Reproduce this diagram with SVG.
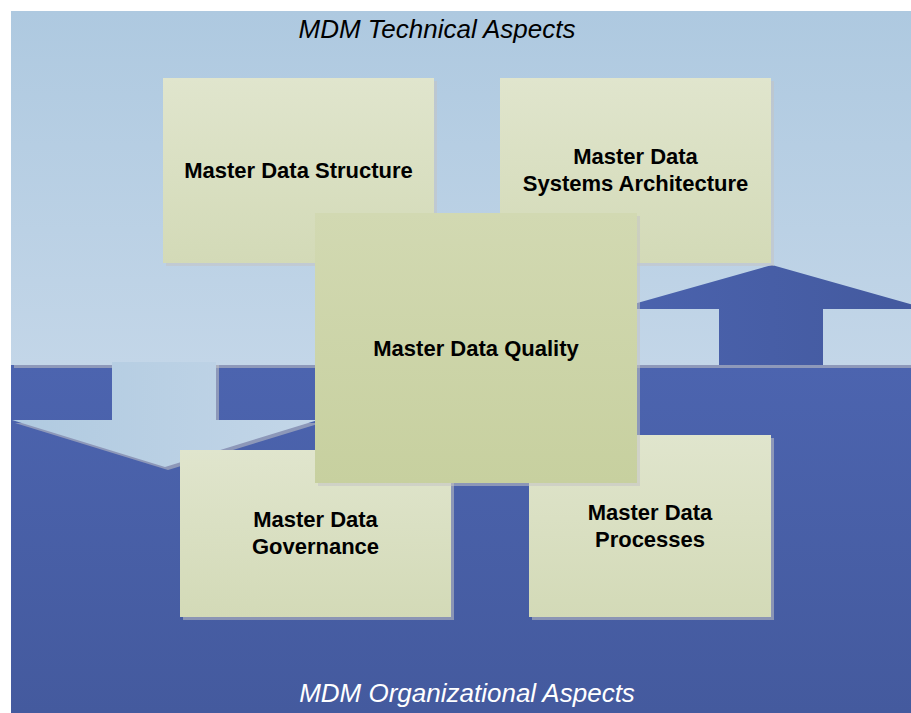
<svg xmlns="http://www.w3.org/2000/svg" width="911" height="713" viewBox="0 0 911 713">
<style>
.lbl{font-family:"Liberation Sans",Arial,sans-serif;font-weight:bold;font-size:22px;fill:#000;text-anchor:middle}
.ttl{font-family:"Liberation Sans",Arial,sans-serif;font-style:italic;font-size:26px;text-anchor:middle}
.box{fill:url(#gBox);filter:url(#sh)}
</style>
<defs>
<linearGradient id="gTop" x1="0" y1="0" x2="0" y2="1"><stop offset="0" stop-color="#aec9e0"/><stop offset="1" stop-color="#c3d6e8"/></linearGradient>
<linearGradient id="gBot" x1="0" y1="0" x2="0" y2="1"><stop offset="0" stop-color="#4c64af"/><stop offset="1" stop-color="#445a9e"/></linearGradient>
<linearGradient id="gDown" x1="0" y1="0" x2="1" y2="0"><stop offset="0" stop-color="#b0cae0"/><stop offset="1" stop-color="#c3d6e8"/></linearGradient>
<linearGradient id="gUp" x1="0" y1="0" x2="1" y2="0"><stop offset="0" stop-color="#4b63ae"/><stop offset="1" stop-color="#43599e"/></linearGradient>
<linearGradient id="gBox" x1="0" y1="0" x2="0" y2="1"><stop offset="0" stop-color="#e0e5cd"/><stop offset="1" stop-color="#d3dab7"/></linearGradient>
<linearGradient id="gQ" x1="0" y1="0" x2="0" y2="1"><stop offset="0" stop-color="#d2d9b2"/><stop offset="1" stop-color="#c7d09f"/></linearGradient>
<filter id="sh" x="-5%" y="-5%" width="115%" height="115%">
<feOffset in="SourceAlpha" dx="3" dy="3" result="o"/>
<feFlood flood-color="#c4c4c4" flood-opacity="0.55"/>
<feComposite in2="o" operator="in" result="s"/>
<feMerge><feMergeNode in="s"/><feMergeNode in="SourceGraphic"/></feMerge>
</filter>
</defs>
<rect x="0" y="0" width="911" height="713" fill="#ffffff"/>
<g id="background">
<rect x="11" y="365" width="900" height="348" fill="url(#gBot)"/>
<rect x="11" y="11" width="900" height="354" fill="url(#gTop)" filter="url(#sh)"/>
</g>
<g id="arrows">
<polygon points="719,365 719,309 616,309 772,265 928,309 823,309 823,365" fill="url(#gUp)"/>
<polygon points="112,362 216,362 216,420 318,420 165,467 12,420 112,420" fill="url(#gDown)" filter="url(#sh)"/>
</g>
<text class="ttl" x="437" y="38" fill="#000">MDM Technical Aspects</text>
<g id="structure"><rect class="box" x="163" y="78" width="271" height="185"/><text class="lbl" x="298.5" y="178">Master Data Structure</text></g>
<g id="systems"><rect class="box" x="500" y="78" width="271" height="185"/><text class="lbl" x="635.5" y="164">Master Data</text><text class="lbl" x="635.5" y="191">Systems Architecture</text></g>
<g id="governance"><rect class="box" x="180" y="450" width="271" height="167"/><text class="lbl" x="315.5" y="527">Master Data</text><text class="lbl" x="315.5" y="554">Governance</text></g>
<g id="processes"><rect class="box" x="529" y="435" width="242" height="182"/><text class="lbl" x="650" y="520">Master Data</text><text class="lbl" x="650" y="547">Processes</text></g>
<g id="quality"><rect x="315" y="213" width="322" height="270" fill="url(#gQ)" filter="url(#sh)"/><text class="lbl" x="476" y="356">Master Data Quality</text></g>
<text class="ttl" x="467" y="702" fill="#ffffff">MDM Organizational Aspects</text>
</svg>
